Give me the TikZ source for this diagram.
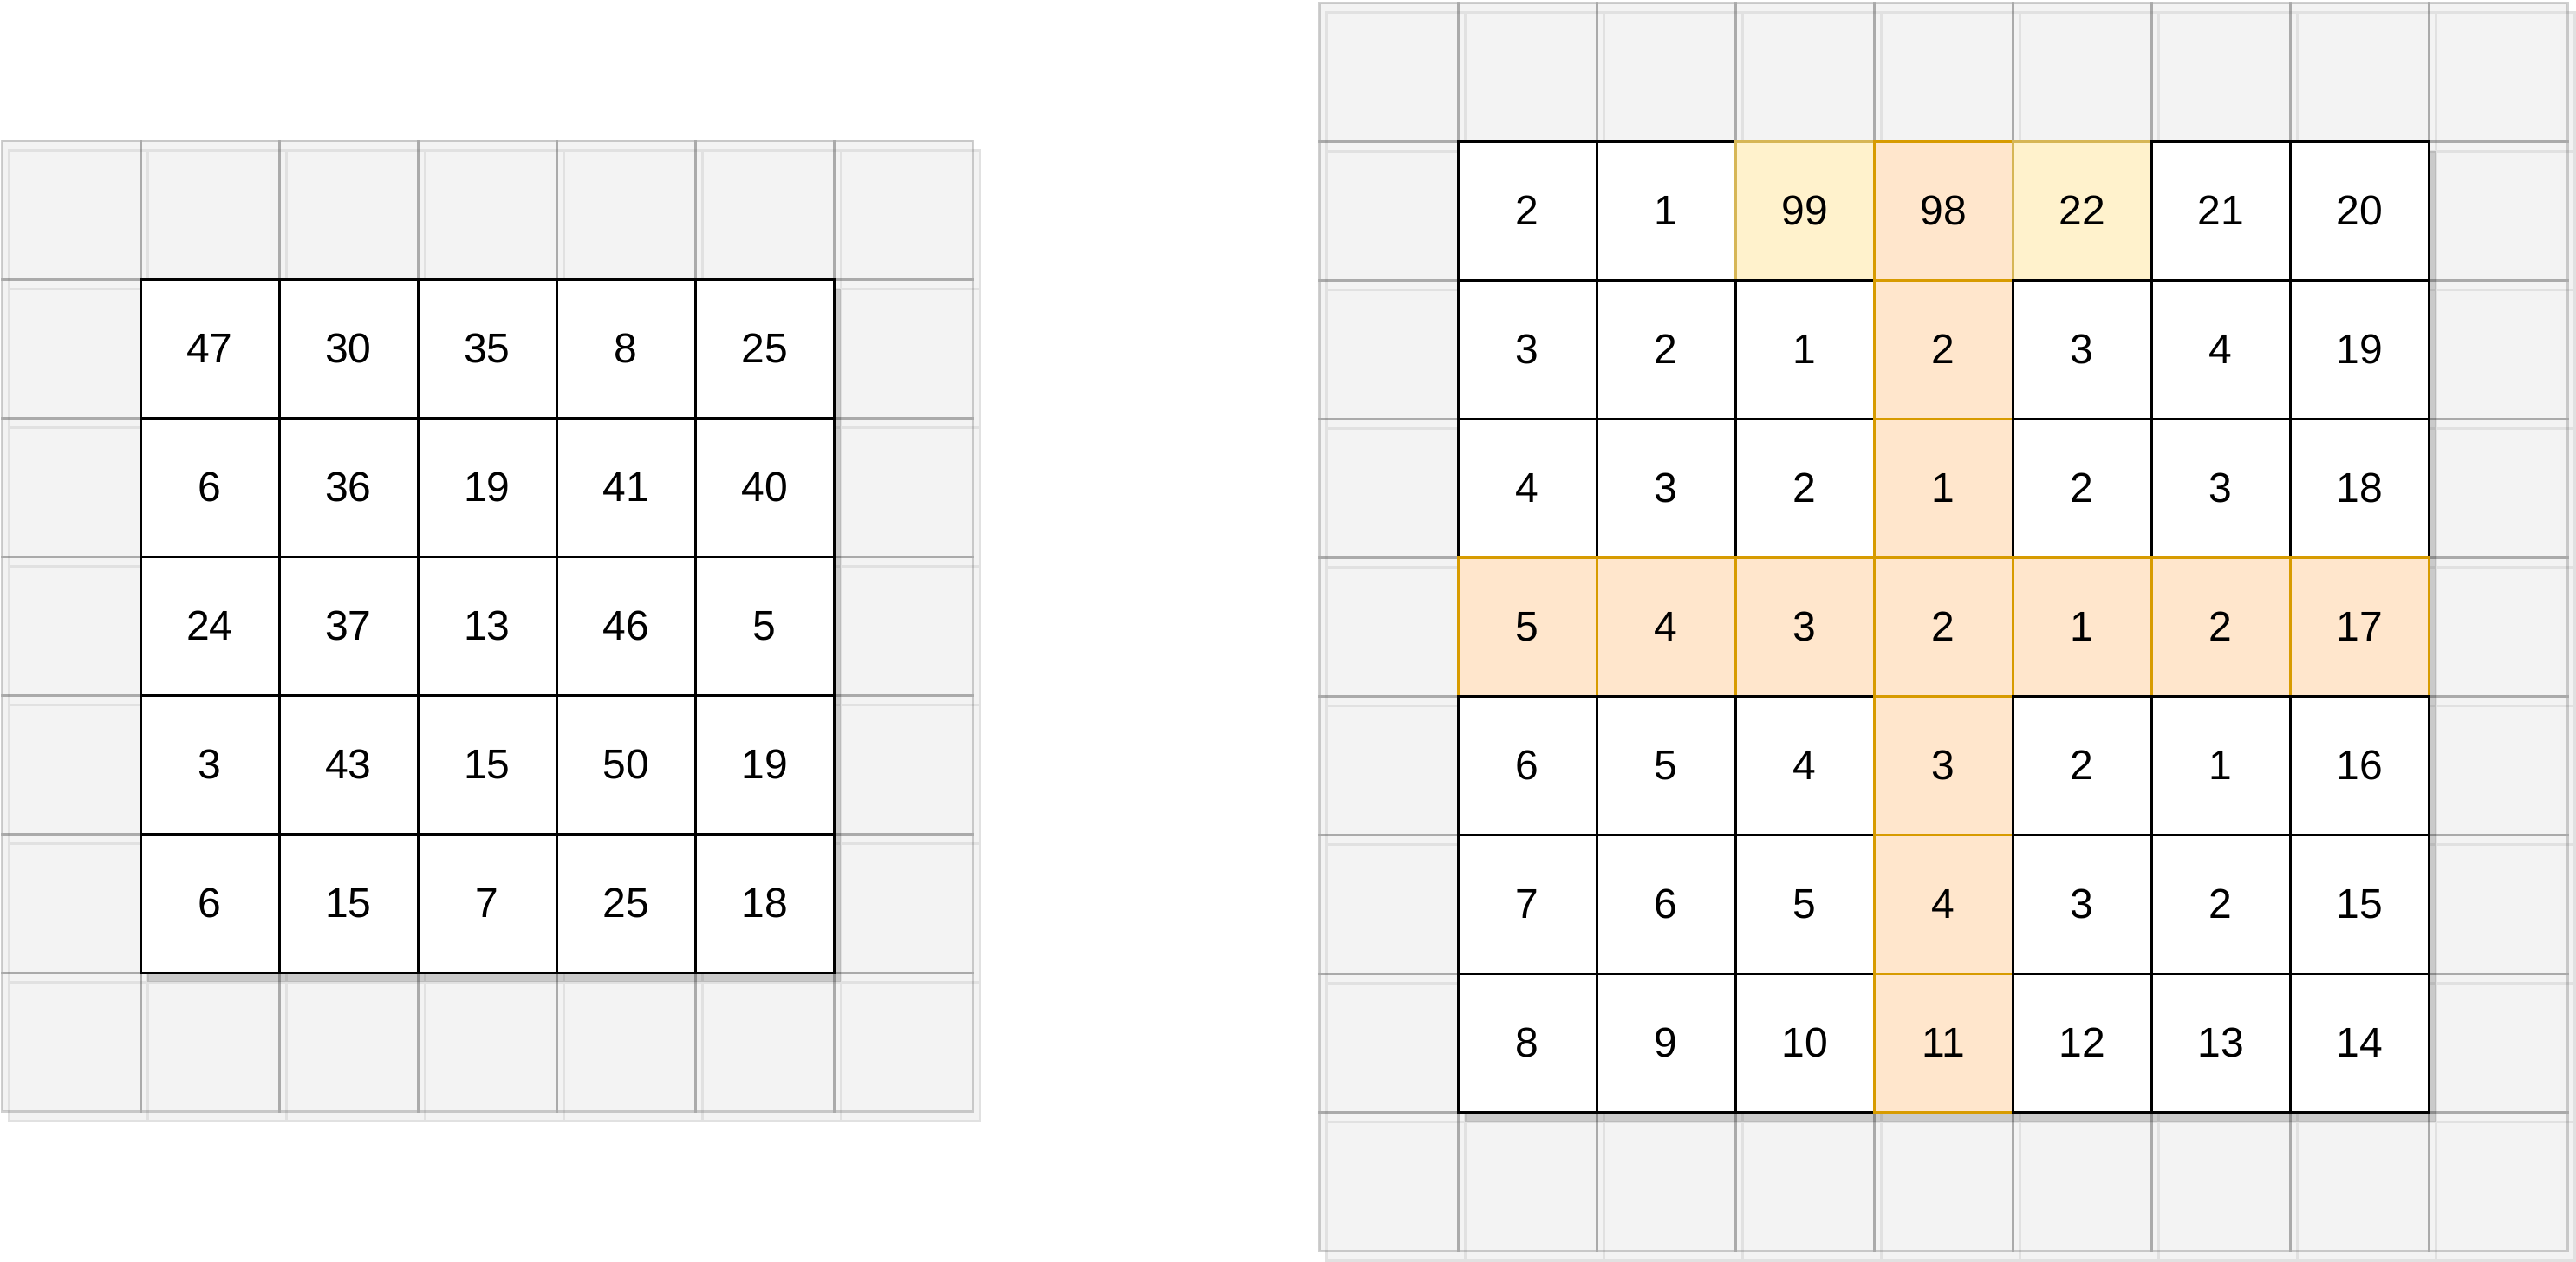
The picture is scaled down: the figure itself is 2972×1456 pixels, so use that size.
\documentclass[tikz,border=0pt]{standalone}
\usepackage{fontspec}
\setmainfont{Liberation Sans}
\definecolor{gfill}{HTML}{F3F3F3}
\definecolor{gshadowline}{HTML}{E1E1E1}
\definecolor{gline}{HTML}{666666}
\definecolor{orfill}{HTML}{FFE6CC}
\definecolor{ordraw}{HTML}{D79B00}
\definecolor{yefill}{HTML}{FFF2CC}
\definecolor{yedraw}{HTML}{D6B656}
\newcommand\grayGrid[3]{%
  \fill[gfill] (#1+8,#2+11) rectangle ++(#3*160+160,#3*160+160);
  \fill[gfill] (#1,#2) rectangle ++(#3*160+160,#3*160+160);
  \foreach \i in {0,...,#3}{\foreach \j in {0,...,#3}{
    \draw[gshadowst] (#1+8+\i*160,#2+11+\j*160) rectangle ++(160,160);}}
  \foreach \i in {0,...,#3}{\foreach \j in {0,...,#3}{
    \draw[glinest] (#1+\i*160,#2+\j*160) rectangle ++(160,160);}}
}
\tikzset{
  gshadowst/.style={draw=gshadowline, line width=1.5pt},
  glinest/.style={draw=gline, draw opacity=0.3, line width=1.5pt},
  blockshadow/.style={fill=black, fill opacity=0.17},
  cell/.style={rectangle, minimum width=80pt, minimum height=80pt,
    inner sep=0pt, outer sep=0pt, line width=1.5pt,
    font=\fontsize{24pt}{28pt}\selectfont, text=black},
}
\begin{document}
\begin{tikzpicture}[x=0.5pt,y=-0.5pt]
\useasboundingbox (0,0) rectangle (2972,1456);
\fill[white] (0,0) rectangle (2972,1456);

% ---------- left grid ----------
\grayGrid{2}{162}{6}
\fill[blockshadow] (170,333) rectangle ++(800,800);
\foreach \row [count=\r from 0] in {{47,30,35,8,25},{6,36,19,41,40},{24,37,13,46,5},{3,43,15,50,19},{6,15,7,25,18}}{
  \foreach \v [count=\c from 0] in \row {
    \node[cell, draw=black, fill=white] (L-\r-\c) at (242+\c*160, 402+\r*160) {\v};
  }
}

% ---------- right grid ----------
\grayGrid{1522}{3}{8}
\fill[blockshadow] (1690,174) rectangle ++(1120,1120);
\foreach \col [count=\c from 0] in {{2,3,4,5,6,7,8},{1,2,3,4,5,6,9},{99,1,2,3,4,5,10},{98,2,1,2,3,4,11},{22,3,2,1,2,3,12},{21,4,3,2,1,2,13},{20,19,18,17,16,15,14}}{
  \foreach \v [count=\r from 0] in \col {
    \def\cf{white}\def\cd{black}%
    \ifnum\r=0 \ifnum\c=2 \def\cf{yefill}\def\cd{yedraw}\fi\ifnum\c=4 \def\cf{yefill}\def\cd{yedraw}\fi\fi
    \ifnum\r=3 \def\cf{orfill}\def\cd{ordraw}\fi
    \ifnum\c=3 \def\cf{orfill}\def\cd{ordraw}\fi
    \node[cell, draw=\cd, fill=\cf] (R-\r-\c) at (1762+\c*160, 243+\r*160) {\v};
  }
}
\end{tikzpicture}
\end{document}
